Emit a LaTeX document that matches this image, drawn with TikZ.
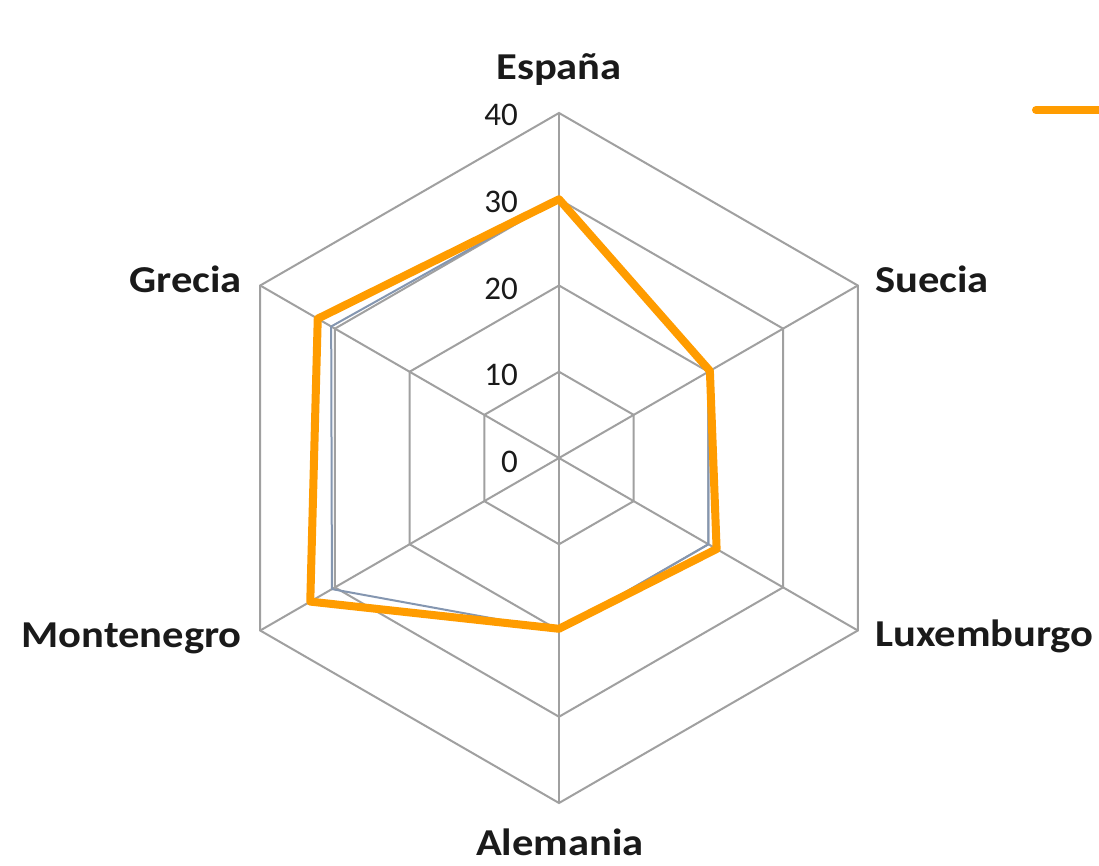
\documentclass[tikz,border=0pt]{standalone}
\usepackage{fontspec}
\setmainfont{Carlito}
\definecolor{gridgray}{RGB}{160,160,160}
\definecolor{serorange}{RGB}{255,156,0}
\definecolor{serblue}{RGB}{132,150,176}
\definecolor{txt}{RGB}{26,26,26}
\newcommand{\catwide}[1]{\scalebox{1.12}[1]{#1}}
\tikzset{
  gridline/.style={draw=gridgray, line width=2pt},
  mainser/.style={draw=serorange, line width=8pt, line join=round},
  secser/.style={draw=serblue, line width=2pt, line join=round},
  catlabel/.style={inner sep=0pt, text=txt, font=\fontsize{38}{38}\selectfont\bfseries},
  ticklabel/.style={inner sep=0pt, text=txt, font=\fontsize{33}{33}\selectfont, anchor=base east},
}
\begin{document}
\begin{tikzpicture}[x=1pt,y=-1pt]
\useasboundingbox (0,0) rectangle (1099,866);
\fill[white] (0,0) rectangle (1099,866);
\begin{scope}[shift={(559,458)},y=1pt]
  \def\u{8.625}
  % grid rings
  \foreach \r in {10,20,30,40}{
    \draw[gridline] (90:{\r*\u}) -- (30:{\r*\u}) -- (-30:{\r*\u}) -- (-90:{\r*\u}) -- (-150:{\r*\u}) -- (150:{\r*\u}) -- cycle;
  }
  \coordinate (c) at (0,0);
  \foreach \a/\n in {90/e,30/s,-30/l,-90/a,-150/m,150/g}{
    \coordinate (end\n) at (\a:{40*\u});
    \draw[gridline] (c) -- (end\n);
  }
  % secondary series
  \coordinate (b1) at (90:{30*\u});
  \coordinate (b2) at (30:{20*\u});
  \coordinate (b3) at (-30:{20*\u});
  \coordinate (b4) at (-90:{20*\u});
  \coordinate (b5) at (-150:{30.4*\u});
  \coordinate (b6) at (150:{30.5*\u});
  \draw[secser] (b1) -- (b2) -- (b3) -- (b4) -- (b5) -- (b6) -- cycle;
  % main series
  \coordinate (o1) at (90:{30*\u});
  \coordinate (o2) at (30:{20.2*\u});
  \coordinate (o3) at (-30:{21.1*\u});
  \coordinate (o4) at (-90:{19.8*\u});
  \coordinate (o5) at (-150:{33.3*\u});
  \coordinate (o6) at (150:{32.3*\u});
  \draw[mainser] (o1) -- (o2) -- (o3) -- (o4) -- (o5) -- (o6) -- cycle;
\end{scope}
% tick labels
\node[ticklabel] (t40) at (518,126) {40};
\node[ticklabel] (t30) at (518,213) {30};
\node[ticklabel] (t20) at (518,299) {20};
\node[ticklabel] (t10) at (518,385) {10};
\node[ticklabel] (t0) at (518,472) {0};
% category labels
\node[catlabel, anchor=base] (lEsp) at (559,80) {\catwide{España}};
\node[catlabel, anchor=base east] (lGre) at (242,292) {\catwide{Grecia}};
\node[catlabel, anchor=base west] (lSue) at (875,292) {\catwide{Suecia}};
\node[catlabel, anchor=base east] (lMon) at (242,647) {\catwide{Montenegro}};
\node[catlabel, anchor=base west] (lLux) at (875,646) {\catwide{Luxemburgo}};
\node[catlabel, anchor=base] (lAle) at (560,855) {\catwide{Alemania}};
% legend
\coordinate (legA) at (1036,110);
\coordinate (legB) at (1102,110);
\draw[serorange, line width=8pt, line cap=round] (legA) -- (legB);
\end{tikzpicture}
\end{document}
